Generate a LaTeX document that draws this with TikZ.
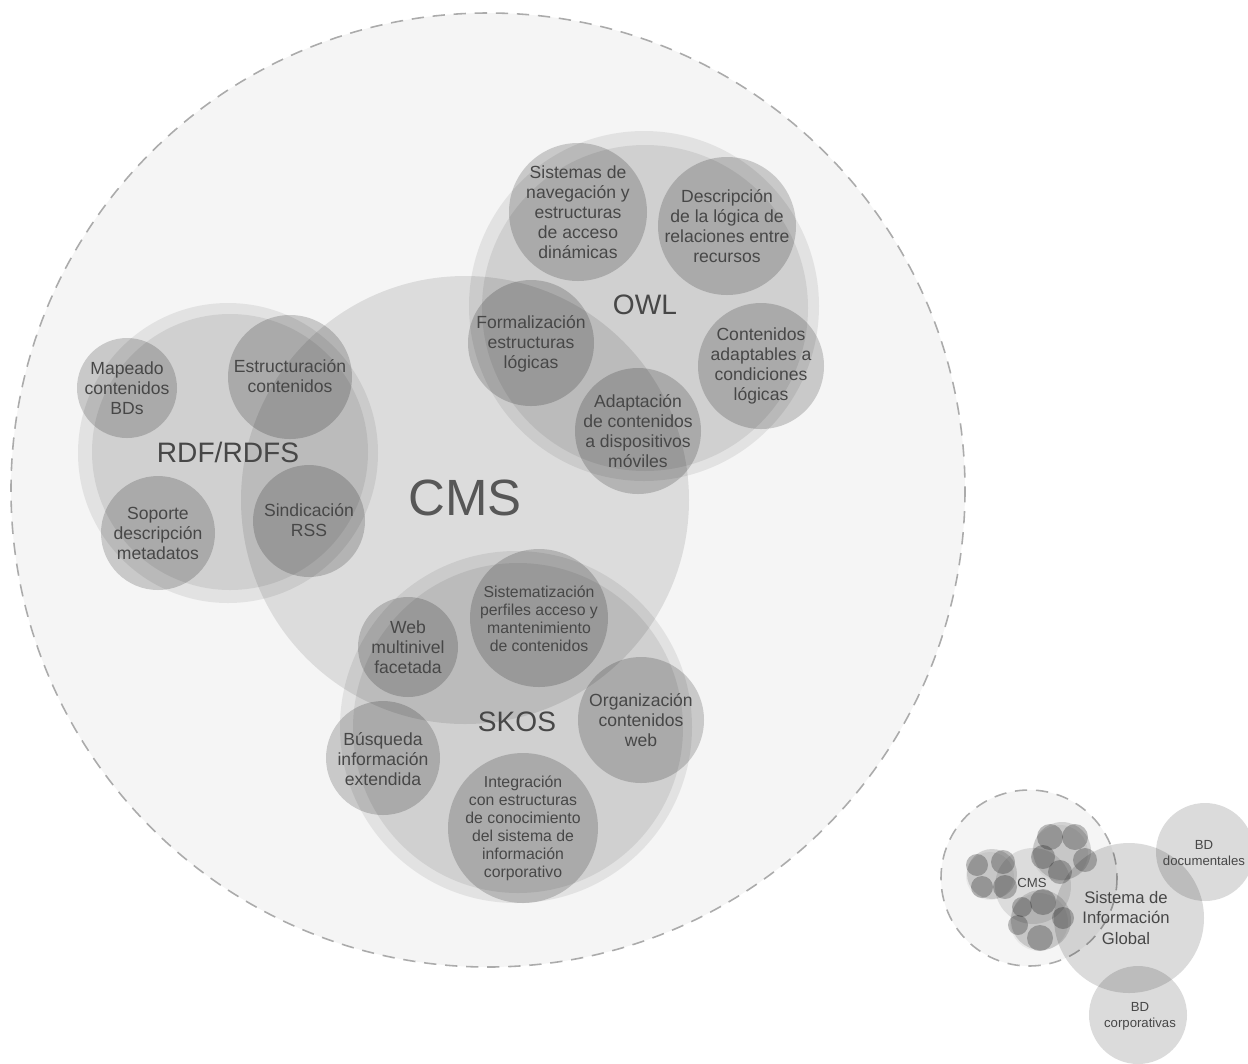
\documentclass[tikz,border=0pt]{standalone}
\usepackage{fontspec}
\setmainfont{Liberation Sans}
\usepackage{tikz}

\tikzset{
	zone/.style={draw=black!33, line width=0.9pt, dash pattern={on 7pt off 5pt}, fill=black, fill opacity=0.04},
	core/.style={fill=black, fill opacity=0.1},
	blob/.style={fill=black, fill opacity=0.08},
	topic/.style={fill=black, fill opacity=0.18},
	dot/.style={fill=black, fill opacity=0.25},
	txt/.style={align=center, inner sep=0pt, text=black!72, font=\fontsize{10}{11.4}\selectfont},
	smalltxt/.style={txt, font=\fontsize{9}{10.2}\selectfont},
	tinytxt/.style={txt, font=\fontsize{7.5}{9.1}\selectfont},
	head/.style={txt, font=\fontsize{16}{18}\selectfont},
	cmstxt/.style={txt, text=black!66, font=\fontsize{29}{32}\selectfont}
}

\begin{document}
\begin{tikzpicture}[x=0.02cm, y=-0.02cm]
						\useasboundingbox (0,0) rectangle (1248,1063);

						\coordinate (ZONE) at (488, 490);
						\coordinate (CMS0) at (465, 500);
						\coordinate (RDF0) at (228, 453);
						\coordinate (OWL0) at (644, 306);
						\coordinate (SKOS0) at (516, 727);

						\draw[zone] (ZONE) circle[radius=477];
						\fill[core] (CMS0) circle[radius=224];

						\fill[blob] (RDF0) circle[radius=150];
						\fill[blob] (230, 452) circle[radius=138];
						\fill[topic] (127, 388) circle[radius=50];
						\fill[topic] (290, 377) circle[radius=62];
						\fill[topic] (158, 533) circle[radius=57];
						\fill[topic] (309, 521) circle[radius=56];

						\fill[blob] (OWL0) circle[radius=175];
						\fill[blob] (645, 308) circle[radius=163];
						\fill[topic] (578, 212) circle[radius=69];
						\fill[topic] (727, 226) circle[radius=69];
						\fill[topic] (531, 343) circle[radius=63];
						\fill[topic] (761, 366) circle[radius=63];
						\fill[topic] (638, 431) circle[radius=63];

						\fill[blob] (SKOS0) circle[radius=176];
						\fill[blob] (518, 728) circle[radius=165];
						\fill[topic] (539, 618) circle[radius=69];
						\fill[topic] (408, 647) circle[radius=50];
						\fill[topic] (641, 720) circle[radius=63];
						\fill[topic] (383, 758) circle[radius=57];
						\fill[topic] (523, 828) circle[radius=75];

						\node[txt] (MAP) at (127, 388) {Mapeado\\contenidos\\BDs};
						\node[txt] (EST) at (290, 376) {Estructuración\\contenidos};
						\node[txt] (SOP) at (158, 533) {Soporte\\descripción\\metadatos};
						\node[txt] (SIN) at (309, 520) {Sindicación\\RSS};
						\node[head] (RDF) at (228, 452) {RDF/RDFS};

						\node[txt] (NAV) at (578, 212) {Sistemas de\\navegación y\\estructuras\\de acceso\\dinámicas};
						\node[txt] (DES) at (727, 226) {Descripción\\de la lógica de\\relaciones entre\\recursos};
						\node[txt] (FOR) at (531, 344) {Formalización\\estructuras\\lógicas};
						\node[txt] (CON) at (761, 366) {Contenidos\\adaptables a\\condiciones\\lógicas};
						\node[txt] (MOV) at (638, 431) {Adaptación\\de contenidos\\a dispositivos\\móviles};
						\node[head] (OWL) at (645, 305) {OWL};

						\node[smalltxt] (PER) at (539, 619) {Sistematización\\perfiles acceso y\\mantenimiento\\de contenidos};
						\node[txt] (WEB) at (408, 647) {Web\\multinivel\\facetada};
						\node[txt] (ORG) at (641, 720) {Organización\\contenidos\\web};
						\node[txt] (BUS) at (383, 759) {Búsqueda\\información\\extendida};
						\node[smalltxt] (INT) at (523, 828) {Integración\\con estructuras\\de conocimiento\\del sistema de\\información\\corporativo};
						\node[head] (SKOS) at (517, 722) {SKOS};

						\node[cmstxt] (CMS) at (465, 498) {CMS};

						\draw[zone] (1029, 878) circle[radius=88];
						\fill[fill=black, fill opacity=0.14] (1129, 918) circle[radius=75];
						\fill[fill=black, fill opacity=0.14] (1205, 852) circle[radius=49];
						\fill[fill=black, fill opacity=0.14] (1138, 1015) circle[radius=49];
						\fill[core] (1033, 886) circle[radius=38];

						\fill[blob, fill opacity=0.14] (992, 874) circle[radius=25];
						\fill[blob, fill opacity=0.05] (990, 876) circle[radius=24];
						\foreach \x/\y/\r in {977/865/11, 1003/862/12, 982/887/11, 1005/887/12}
							\fill[dot] (\x, \y) circle[radius=\r];

						\fill[blob, fill opacity=0.14] (1062, 851) circle[radius=29];
						\fill[blob, fill opacity=0.05] (1060, 853) circle[radius=28];
						\foreach \x/\y/\r in {1050/837/13, 1075/837/13, 1043/857/12, 1085/860/12, 1060/872/12}
							\fill[dot] (\x, \y) circle[radius=\r];

						\fill[blob, fill opacity=0.14] (1041, 920) circle[radius=30];
						\fill[blob, fill opacity=0.05] (1039, 922) circle[radius=29];
						\foreach \x/\y/\r in {1022/907/10, 1043/902/13, 1063/918/11, 1018/925/10, 1040/938/13}
							\fill[dot] (\x, \y) circle[radius=\r];

						\node[tinytxt] (CMSS) at (1032, 883) {CMS};
						\node[txt, font=\fontsize{9.5}{11.4}\selectfont] (SIG) at (1126, 918) {Sistema de\\Información\\Global};
						\node[tinytxt] (BDD) at (1204, 853) {BD\\documentales};
						\node[tinytxt] (BDC) at (1140, 1016) {BD\\corporativas};
					\end{tikzpicture}
\end{document}
